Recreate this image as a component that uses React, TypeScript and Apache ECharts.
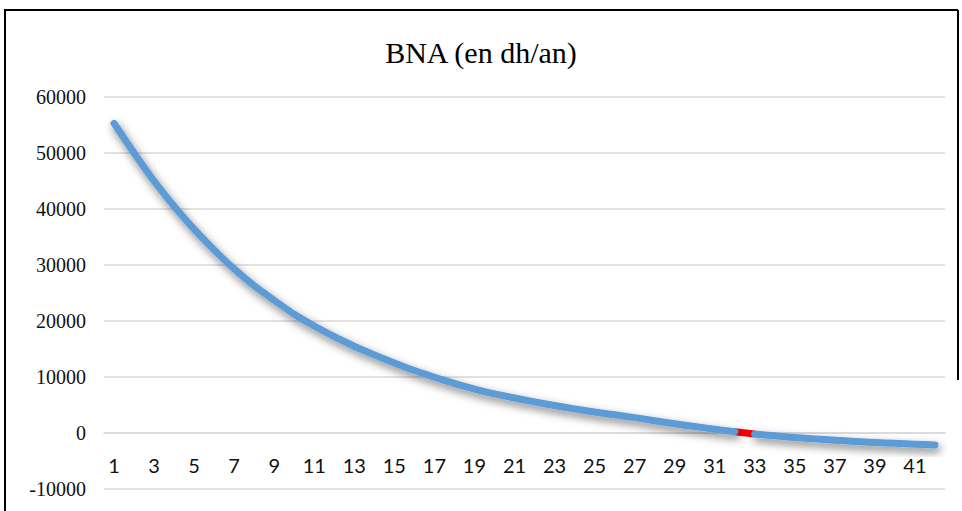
import React, { useEffect, useRef } from "react";
import * as echarts from "echarts";

const categories: string[] = Array.from({ length: 42 }, (_, i) => String(i + 1));

const bnaValues: number[] = [
  55300, 50000, 45000, 40500, 36400, 32700, 29300, 26300, 23700, 21200,
  19100, 17200, 15500, 13950, 12500, 11150, 9950, 8850, 7850, 7000,
  6250, 5550, 4900, 4300, 3750, 3250, 2750, 2200, 1650, 1150,
  680, 240, -170, -500, -800, -1050, -1300, -1500, -1700, -1850,
  -2000, -2140,
];

// highlighted (red) segment: between categories 32 and 33
const redStart = 31;
const redEnd = 32;

const yTicks = { min: -10000, max: 60000, interval: 10000 };
const titleText = "BNA (en dh/an)";

export default function App() {
  const ref = useRef<HTMLDivElement>(null);
  useEffect(() => {
    if (!ref.current) return;
    const chart = echarts.init(ref.current, undefined, { renderer: "svg" });
    const partA = bnaValues.map((v, i) => (i <= redStart ? v : null));
    const partB = bnaValues.map((v, i) => (i >= redEnd ? v : null));
    const redPart = bnaValues.map((v, i) => (i >= redStart && i <= redEnd ? v : null));
    const blueStyle = {
      color: "#5B9BD5",
      width: 7,
      cap: "round" as const,
      join: "round" as const,
      shadowColor: "rgba(0,0,0,0.5)",
      shadowBlur: 8,
      shadowOffsetX: 2,
      shadowOffsetY: 4,
    };
    chart.setOption({
      animation: false,
      backgroundColor: "#ffffff",
      title: {
        text: titleText,
        left: "center",
        top: 32,
        textStyle: {
          fontFamily: "Liberation Serif",
          fontSize: 30,
          fontWeight: "normal",
          color: "#000000",
        },
      },
      graphic: [
        { type: "line", shape: { x1: 4, y1: 10, x2: 958, y2: 10 }, style: { stroke: "#000", lineWidth: 2 } },
        { type: "line", shape: { x1: 5, y1: 10, x2: 5, y2: 511 }, style: { stroke: "#000", lineWidth: 2 } },
        { type: "line", shape: { x1: 958, y1: 10, x2: 958, y2: 380 }, style: { stroke: "#000", lineWidth: 2 } },
      ],
      grid: { left: 104, right: 17, top: 97, bottom: 22, containLabel: false, outerBoundsMode: "none" },
      xAxis: {
        type: "category",
        data: categories,
        boundaryGap: true,
        position: "bottom",
        offset: -56,
        axisLine: { show: true, onZero: false, lineStyle: { color: "#d9d9d9", width: 1.5 } },
        axisTick: { show: false },
        axisLabel: {
          interval: 1,
          margin: 22,
          fontFamily: "Lato",
          fontSize: 20,
          color: "#111",
        },
        splitLine: { show: false },
      },
      yAxis: {
        type: "value",
        min: yTicks.min,
        max: yTicks.max,
        interval: yTicks.interval,
        axisLine: { show: false },
        axisTick: { show: false },
        axisLabel: {
          margin: 18,
          fontFamily: "Liberation Serif",
          fontSize: 20,
          color: "#111",
          formatter: (v: number) => String(v),
        },
        splitLine: { lineStyle: { color: "#d9d9d9", width: 1.5 } },
      },
      series: [
        {
          type: "line",
          data: redPart,
          symbol: "none",
          connectNulls: false,
          z: 2,
          lineStyle: { color: "#FF0000", width: 7, cap: "butt" },
        },
        {
          type: "line",
          data: partA,
          symbol: "none",
          smooth: 0.2,
          z: 3,
          lineStyle: blueStyle,
        },
        {
          type: "line",
          data: partB,
          symbol: "none",
          smooth: 0.2,
          z: 3,
          lineStyle: blueStyle,
        },
      ],
    });
    return () => chart.dispose();
  }, []);
  return (
    <div
      ref={ref}
      style={{ position: "fixed", left: 0, top: 0, width: 962, height: 511 }}
    />
  );
}
